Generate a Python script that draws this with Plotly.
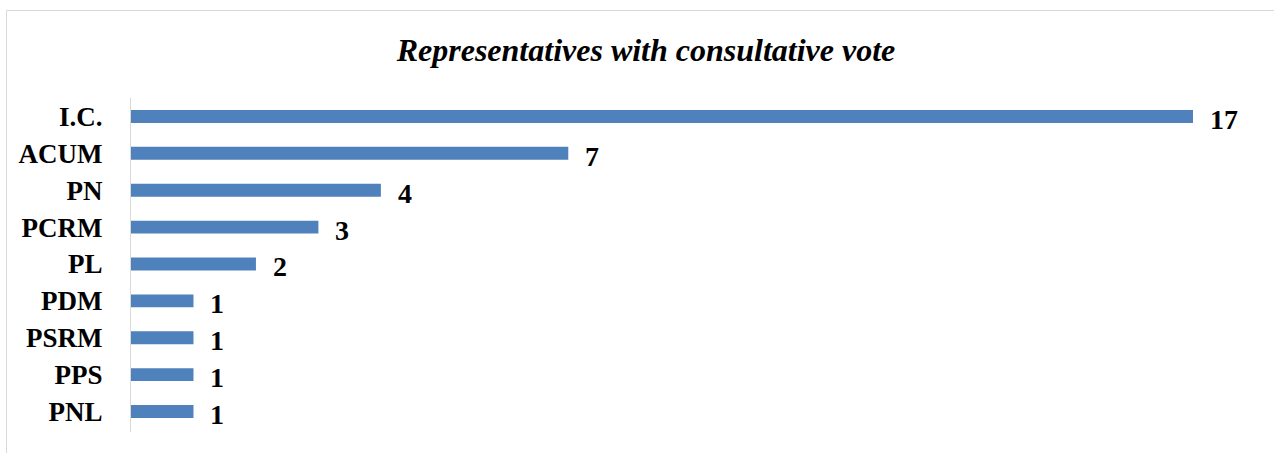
import plotly.graph_objects as go

categories = ["I.C.", "ACUM", "PN", "PCRM", "PL", "PDM", "PSRM", "PPS", "PNL"]
values = [17, 7, 4, 3, 2, 1, 1, 1, 1]
title_text = "Representatives with consultative vote"

W, H = 1274, 453
ml, mr, mt, mb = 131, 18, 98, 21
pw = W - ml - mr
ph = H - mt - mb

FONT = "Liberation Serif"

fig = go.Figure()
fig.add_trace(go.Bar(
    x=values, y=categories, orientation="h",
    marker=dict(color="#4F81BD", line=dict(width=0)),
    hoverinfo="x+y",
))

for c, v in zip(categories, values):
    fig.add_annotation(x=v, y=c, text=f"<b>{v}</b>", showarrow=False,
                       xanchor="left", yanchor="middle", xshift=15, yshift=-3,
                       font=dict(family=FONT, size=28, color="#000000"))

def px_to_paper_x(px):
    return (px - ml) / pw

def px_to_paper_y(py):
    return (H - mb - py) / ph

fig.add_shape(type="rect", xref="paper", yref="paper",
              x0=px_to_paper_x(6.5), x1=px_to_paper_x(1290),
              y0=px_to_paper_y(470), y1=px_to_paper_y(10.5),
              line=dict(color="#d9d9d9", width=1), fillcolor="rgba(0,0,0,0)", layer="below")

fig.update_layout(
    width=W, height=H,
    margin=dict(l=ml, r=mr, t=mt, b=mb, pad=0),
    paper_bgcolor="white", plot_bgcolor="white",
    bargap=0.65,
    showlegend=False,
    title=dict(text=f"<b><i>{title_text}</i></b>", x=646 / W, xanchor="center",
               y=1 - 50 / H, yanchor="middle",
               font=dict(family=FONT, size=32, color="#000000")),
    xaxis=dict(range=[0, pw / 62.47], visible=False, fixedrange=True),
    yaxis=dict(categoryorder="array", categoryarray=categories[::-1],
               showline=True, linecolor="#d9d9d9", linewidth=1,
               showgrid=False, ticks="", ticklabelstandoff=22,
               tickfont=dict(family=FONT, size=27, color="#000000", weight="bold"),
               fixedrange=True),
)

fig.write_html("out.html")
